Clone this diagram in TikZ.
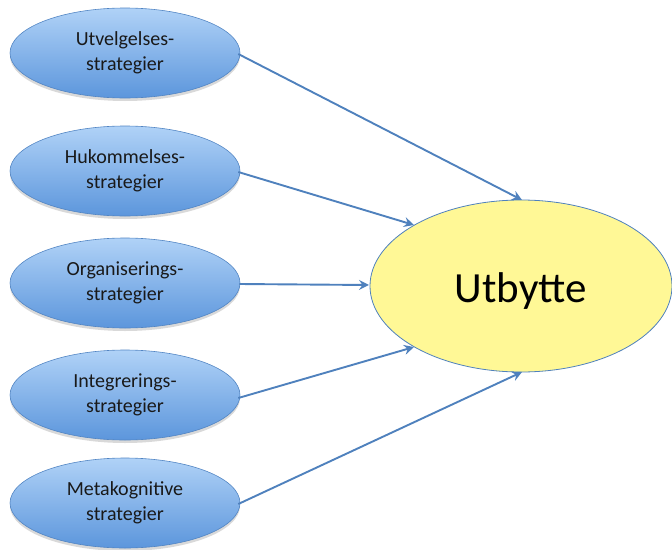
\documentclass[tikz,border=0pt]{standalone}
\usepackage{fontspec}
\setmainfont{Carlito}
\usetikzlibrary{shapes.geometric,arrows.meta,shadows}
\definecolor{edgeblue}{RGB}{79,129,189}
\definecolor{topblue}{RGB}{176,210,247}
\definecolor{botblue}{RGB}{92,150,220}
\definecolor{outfill}{RGB}{255,248,150}
\definecolor{txt}{RGB}{25,25,25}
\tikzset{
  strat/.style={ellipse, minimum width=230pt, minimum height=90pt, inner sep=0pt,
    draw=edgeblue!80!botblue, line width=0.6pt,
    top color=topblue, bottom color=botblue,
    drop shadow={shadow xshift=0pt, shadow yshift=-3pt, opacity=0.25, fill=black!60},
    align=center, font=\fontsize{20}{24.5}\selectfont, text=txt},
  result/.style={ellipse, minimum width=302pt, minimum height=172pt, inner sep=0pt,
    draw=edgeblue, line width=0.8pt, fill=outfill,
    font=\fontsize{43}{50}\selectfont, text=black},
  link/.style={draw=edgeblue, line width=1.9pt, -{Stealth[length=10pt,width=10pt,inset=3.5pt]}}
}
\begin{document}
\begin{tikzpicture}[x=1pt,y=-1pt]
\useasboundingbox (0,0) rectangle (672,549);
\node[strat] (s1) at (125,53) {Utvelgelses-\\strategier};
\node[strat] (s2) at (125,171) {Hukommelses-\\strategier};
\node[strat] (s3) at (125,283) {Organiserings-\\strategier};
\node[strat] (s4) at (125,395) {Integrerings-\\strategier};
\node[strat] (s5) at (125,503) {Metakognitive\\strategier};
\node[result] (u) at (521,286) {\raisebox{-16pt}[0pt][0pt]{Utbytte}};
\coordinate (e1) at (522,200);
\coordinate (e2) at (414,225);
\coordinate (e3) at (369,285);
\coordinate (e4) at (414,347);
\coordinate (e5) at (522,372);
\draw[link] (s1.east) ++(-2,1) -- (e1);
\draw[link] (s2.east) ++(-2,1) -- (e2);
\draw[link] (s3.east) ++(-1,1) -- (e3);
\draw[link] (s4.east) ++(-2,3) -- (e4);
\draw[link] (s5.east) ++(-2,1) -- (e5);
\end{tikzpicture}
\end{document}
